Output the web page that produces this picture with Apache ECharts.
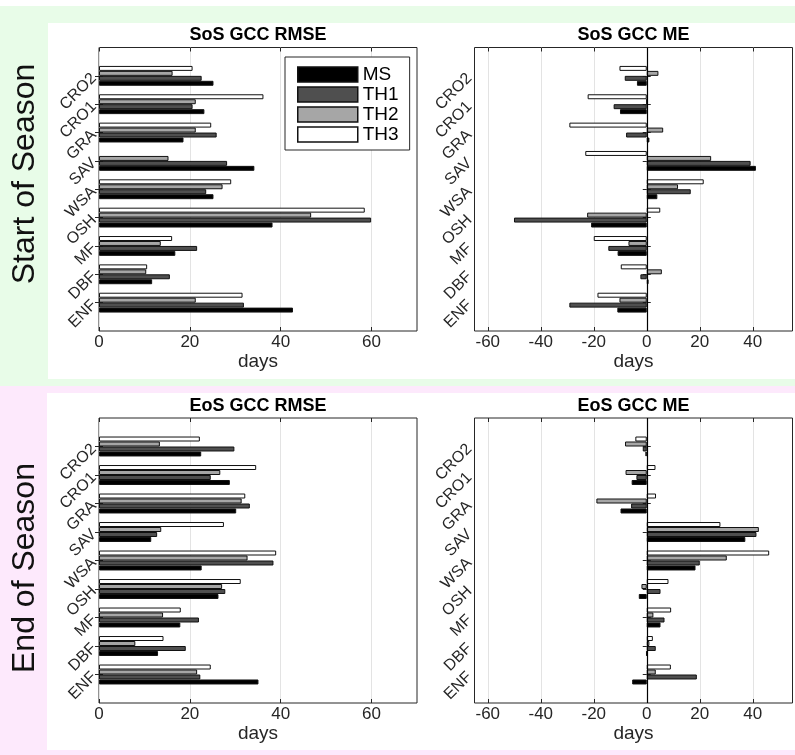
<!DOCTYPE html>
<html><head><meta charset="utf-8">
<script src="https://cdn.jsdelivr.net/npm/echarts@6/dist/echarts.min.js"></script>
<style>html,body{margin:0;padding:0;background:#fff}#c{width:795px;height:755px}</style>
</head><body><div id="c"></div>
<script>
// categories listed bottom -> top
const categories = ['ENF','DBF','MF','OSH','WSA','SAV','GRA','CRO1','CRO2'];
const seriesNames = ['MS','TH1','TH2','TH3'];

// Start of Season, RMSE (days)
const sosRmseMS  = [42.7, 11.7, 16.8, 38.2, 25.2, 34.2, 18.6, 23.2, 25.2];
const sosRmseTH1 = [31.9, 15.6, 21.6, 59.9, 23.6, 28.2, 25.9, 20.6, 22.6];
const sosRmseTH2 = [21.3, 10.4, 13.6, 46.7, 27.2, 15.3, 21.3, 21.3, 16.2];
const sosRmseTH3 = [31.6, 10.6, 16.1, 58.5, 29.1, null, 24.7, 36.2, 20.6];
// Start of Season, ME (days)
const sosMeMS  = [-11.1, 0.7, -11.0, -21.0, 4.0, 41.2, 1.0, -10.1, -3.7];
const sosMeTH1 = [-29.2, -2.4, -14.5, -50.1, 16.6, 39.2, -7.8, -12.5, -8.3];
const sosMeTH2 = [-10.3, 5.7, -6.9, -22.5, 11.8, 24.3, 6.2, 0, 4.4];
const sosMeTH3 = [-18.6, -9.8, -20.0, 5.1, 21.5, -23.2, -29.2, -22.3, -10.3];
// End of Season, RMSE (days)
const eosRmseMS  = [35.1, 13.0, 17.9, 26.3, 22.6, 11.5, 30.2, 28.8, 22.5];
const eosRmseTH1 = [22.3, 19.1, 22.0, 27.8, 38.4, 12.8, 33.2, 24.6, 29.8];
const eosRmseTH2 = [21.6, 8.0, 14.1, 27.1, 32.7, 13.7, 31.4, 26.7, 13.4];
const eosRmseTH3 = [24.6, 14.2, 18.0, 31.2, 39.0, 27.5, 32.2, 34.6, 22.2];
// End of Season, ME (days)
const eosMeMS  = [-5.5, -0.2, 5.2, -3.0, 18.4, 37.2, -9.9, -5.7, -0.5];
const eosMeTH1 = [18.9, 3.4, 6.7, 5.2, 20.0, 41.4, -5.9, -3.9, -1.5];
const eosMeTH2 = [3.4, 1.0, 2.5, -2.0, 30.2, 42.3, -19.0, -8.0, -8.2];
const eosMeTH3 = [9.1, 2.3, 9.2, 8.2, 46.2, 27.8, 3.5, 3.3, -4.3];

const rmseTicks = [0, 20, 40, 60];
const meTicks = [-60, -40, -20, 0, 20, 40];
const titles = ['SoS GCC RMSE', 'SoS GCC ME', 'EoS GCC RMSE', 'EoS GCC ME'];
const rowLabels = ['Start of Season', 'End of Season'];

const colors = {MS: '#000000', TH1: '#4f4f4f', TH2: '#a6a6a6', TH3: '#ffffff'};
const FONT = 'Liberation Sans, Arial, Helvetica, sans-serif';
const INK = '#262626';

const panels = [
  {title: titles[0], kind: 'rmse', left: 99, top: 47.5, height: 283.5,
   data: {MS: sosRmseMS, TH1: sosRmseTH1, TH2: sosRmseTH2, TH3: sosRmseTH3}},
  {title: titles[1], kind: 'me', left: 474.5, top: 47.5, height: 283.5,
   data: {MS: sosMeMS, TH1: sosMeTH1, TH2: sosMeTH2, TH3: sosMeTH3}},
  {title: titles[2], kind: 'rmse', left: 99, top: 418, height: 285,
   data: {MS: eosRmseMS, TH1: eosRmseTH1, TH2: eosRmseTH2, TH3: eosRmseTH3}},
  {title: titles[3], kind: 'me', left: 474.5, top: 418, height: 285,
   data: {MS: eosMeMS, TH1: eosMeTH1, TH2: eosMeTH2, TH3: eosMeTH3}}
];
const gridWidth = 318;

// padded category axis: empty slots at both ends so 9 categories sit at positions 1..9 of 0..10
const yCats = [''].concat(categories, ['']);
const pad = arr => [null].concat(arr, [null]);
const tickKeep = (i) => i > 0 && i < yCats.length - 1;

const grid = [], xAxis = [], yAxis = [], series = [], graphic = [];

// backgrounds
graphic.push({type: 'rect', z: -10, silent: true, shape: {x: 0, y: 6, width: 795, height: 380}, style: {fill: '#e8fce8'}});
graphic.push({type: 'rect', z: -10, silent: true, shape: {x: 0, y: 386, width: 795, height: 369}, style: {fill: '#fde9fc'}});
graphic.push({type: 'rect', z: -9, silent: true, shape: {x: 48, y: 23, width: 747, height: 356}, style: {fill: '#ffffff'}});
graphic.push({type: 'rect', z: -9, silent: true, shape: {x: 47, y: 393, width: 748, height: 357}, style: {fill: '#ffffff'}});
graphic.push({type: 'text', silent: true, x: 25, y: 174, rotation: Math.PI / 2,
  style: {text: rowLabels[0], align: 'center', verticalAlign: 'middle', font: '32px ' + FONT, fill: '#111'}});
graphic.push({type: 'text', silent: true, x: 25, y: 568, rotation: Math.PI / 2,
  style: {text: rowLabels[1], align: 'center', verticalAlign: 'middle', font: '32px ' + FONT, fill: '#111'}});

panels.forEach((p, i) => {
  grid.push({left: p.left, top: p.top, width: gridWidth, height: p.height, show: true,
    borderColor: INK, borderWidth: 1, backgroundColor: 'transparent'});
  graphic.push({type: 'text', silent: true, x: p.left + gridWidth / 2, y: p.top - 12,
    style: {text: p.title, align: 'center', verticalAlign: 'middle', font: 'bold 18px ' + FONT, fill: '#000'}});
  const isMe = p.kind === 'me';
  const ticks = isMe ? meTicks : rmseTicks;
  const xmin = isMe ? -65 : 0, xmax = isMe ? 55 : 70;
  xAxis.push({type: 'value', gridIndex: i, min: xmin, max: xmax, position: 'bottom',
    name: 'days', nameLocation: 'middle', nameGap: 15,
    nameTextStyle: {fontSize: 19, color: INK, fontFamily: FONT},
    axisLine: {show: false},
    axisTick: {show: true, inside: true, length: 4, customValues: ticks, lineStyle: {color: INK}},
    axisLabel: {customValues: ticks, fontSize: 17, color: INK, fontFamily: FONT, margin: 3},
    splitLine: {show: true, lineStyle: {color: '#e3e3e3', width: 1}}});
  xAxis.push({type: 'value', gridIndex: i, min: xmin, max: xmax, position: 'top',
    axisLine: {show: false}, axisLabel: {show: false}, splitLine: {show: false},
    axisTick: {show: true, inside: true, length: 4, customValues: ticks, lineStyle: {color: INK}}});
  yAxis.push({type: 'category', gridIndex: i, data: yCats, boundaryGap: false, position: 'left',
    axisLine: {show: false},
    axisTick: {show: true, inside: true, length: 4, interval: tickKeep, lineStyle: {color: INK}},
    axisLabel: {interval: 0, rotate: 45, fontSize: 16, color: INK, fontFamily: FONT, margin: 5},
    splitLine: {show: false}});
  yAxis.push({type: 'category', gridIndex: i, data: yCats, boundaryGap: false, position: 'right',
    axisLine: {show: false}, axisLabel: {show: false}, splitLine: {show: false},
    axisTick: {show: true, inside: true, length: 4, interval: tickKeep, lineStyle: {color: INK}}});
  // top-to-bottom order within a group: TH3, TH2, TH1, MS
  ['TH3', 'TH2', 'TH1', 'MS'].forEach(name => {
    const s = {type: 'bar', name: name, xAxisIndex: 2 * i, yAxisIndex: 2 * i,
      data: pad(p.data[name]), barGap: '0%', barCategoryGap: '30%',
      itemStyle: {color: colors[name], borderColor: '#111', borderWidth: 1},
      emphasis: {disabled: true}};
    if (isMe && name === 'MS') {
      s.markLine = {silent: true, symbol: ['none', 'none'], label: {show: false},
        lineStyle: {color: '#000', width: 1.2, type: 'solid'}, data: [{xAxis: 0}]};
    }
    series.push(s);
  });
});

const chart = echarts.init(document.getElementById('c'), null, {renderer: 'canvas'});
chart.setOption({
  animation: false,
  backgroundColor: '#ffffff',
  textStyle: {fontFamily: FONT},
  graphic: graphic,
  legend: {data: seriesNames, orient: 'vertical', left: 285, top: 57, icon: 'rect',
    itemWidth: 60, itemHeight: 15, itemGap: 1, padding: [8, 11, 6, 12],
    borderColor: INK, borderWidth: 1, backgroundColor: '#ffffff',
    itemStyle: {borderWidth: 1.5},
    textStyle: {fontSize: 19, color: '#000', fontFamily: FONT}},
  grid: grid, xAxis: xAxis, yAxis: yAxis, series: series
});
</script></body></html>
